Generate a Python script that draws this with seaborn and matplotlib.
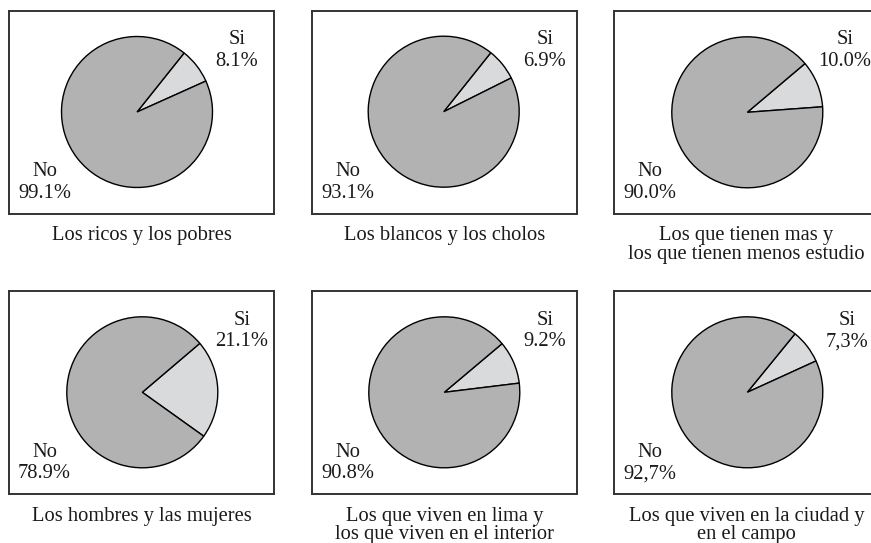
import matplotlib
matplotlib.use("Agg")
import matplotlib.pyplot as plt
import seaborn as sns

# Survey answers: share answering "Si" / "No" for each pair of groups
captions = [
    "Los ricos y los pobres",
    "Los blancos y los cholos",
    "Los que tienen mas y\nlos que tienen menos estudio",
    "Los hombres y las mujeres",
    "Los que viven en lima y\nlos que viven en el interior",
    "Los que viven en la ciudad y\nen el campo",
]
answers = ["Si", "No"]
si_pct = [8.1, 6.9, 10.0, 21.1, 9.2, 7.3]
no_pct = [99.1, 93.1, 90.0, 78.9, 90.8, 92.7]
decimal_sep = [".", ".", ".", ".", ".", ","]

sns.set_theme(style="white")
plt.rcParams["font.family"] = ["Liberation Serif", "DejaVu Serif"]

W, H = 871, 543
fig = plt.figure(figsize=(W / 100, H / 100), dpi=100)
fig.patch.set_facecolor("white")

colors = {"Si": "#d9dadc", "No": "#b2b2b2"}

# panel frames in pixels: left, top, width, height
box_w, box_h = 265, 203
box_left = [9, 312, 614]
box_top = [10.5, 291]
pie_centers = [(128, 101.5), (131.7, 101.8), (133.3, 101.2),
               (133.3, 101.7), (132.3, 101.7), (133.3, 101.7)]
si_end_angle = [51.4, 51.4, 40.2, 40.4, 40.1, 50.8]
si_label_x = [228, 233, 231, 233, 233, 233]
radius = 75.5
fs = 14.8


def fmt(v, sep):
    return f"{v:.1f}".replace(".", sep) + "%"


for i in range(6):
    r, c = divmod(i, 3)
    left, top = box_left[c], box_top[r]
    ax = fig.add_axes([left / W, 1 - (top + box_h) / H, box_w / W, box_h / H])
    vals = [si_pct[i], no_pct[i]]
    frac_si = si_pct[i] / sum(vals)
    start = si_end_angle[i] - 360 * frac_si
    ax.pie(vals, colors=[colors[a] for a in answers], startangle=start,
           center=pie_centers[i], radius=radius, frame=True,
           wedgeprops=dict(edgecolor="black", linewidth=1.0))
    ax.set_xlim(0, box_w)
    ax.set_ylim(0, box_h)
    ax.set_aspect("equal")
    ax.set_xticks([])
    ax.set_yticks([])
    for s in ax.spines.values():
        s.set_visible(True)
        s.set_color("#333333")
        s.set_linewidth(1.4)

    ax.text(si_label_x[i], 163, f"Si\n{fmt(si_pct[i], decimal_sep[i])}",
            ha="center", va="center", fontsize=fs, linespacing=1.2,
            color="#1a1a1a")
    ax.text(35.5, 31, f"No\n{fmt(no_pct[i], decimal_sep[i])}",
            ha="center", va="center", fontsize=fs, linespacing=1.15,
            color="#1a1a1a")

    fig.text((left + box_w / 2) / W, 1 - (top + box_h + 12.5) / H, captions[i],
             ha="center", va="top", fontsize=fs, linespacing=1.0,
             color="#1a1a1a")

fig.savefig("out.png", dpi=100, facecolor="white")
